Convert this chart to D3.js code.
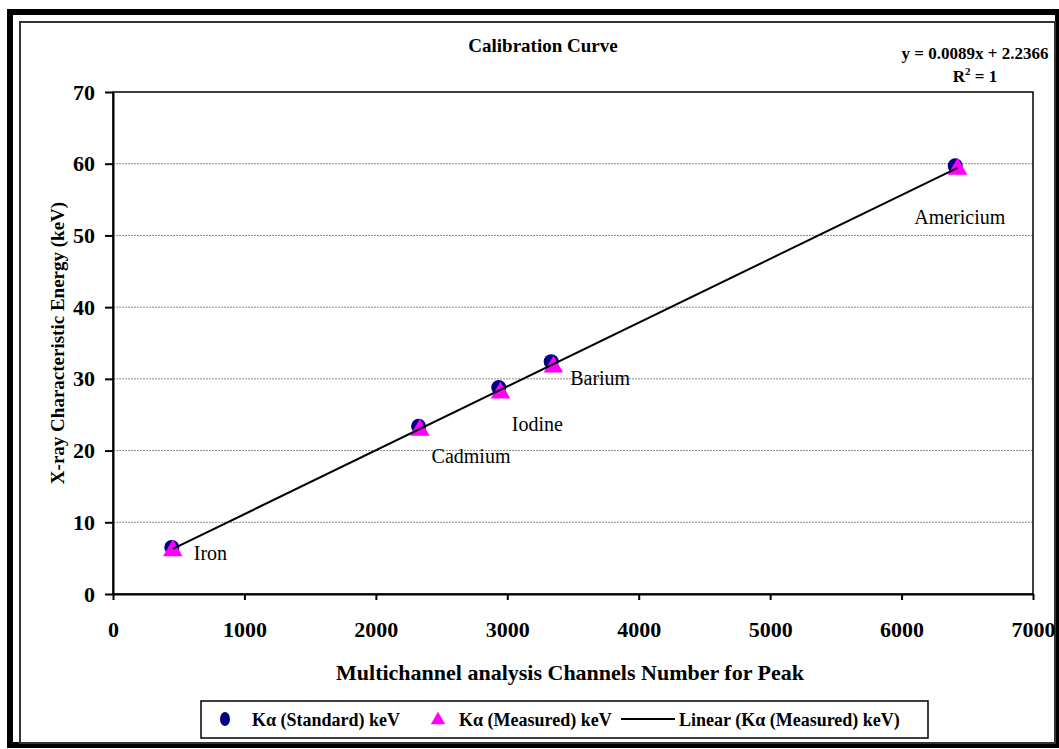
<!DOCTYPE html>
<html>
<head>
<meta charset="utf-8">
<script src="https://cdn.jsdelivr.net/npm/d3@7"></script>
<style>
  body { margin: 0; background: #fff; }
  svg { display: block; font-family: "Liberation Serif", "Times New Roman", serif; }
  .axis text { font-size: 22px; font-weight: bold; fill: #000; font-family: "Liberation Serif", "Times New Roman", serif; }
  .axis path, .axis line { stroke: #000; stroke-width: 2; }
</style>
</head>
<body>
<div id="chart"></div>
<script>
// element names + channel positions
var elements = ['Iron', 'Cadmium', 'Iodine', 'Barium', 'Americium'];
var stdChannels = [447, 2325, 2935, 3334, 6408];
var stdEnergy = [6.5, 23.4, 28.8, 32.4, 59.7];
var measChannels = [455, 2335, 2948, 3351, 6426];
var measEnergy = [6.2, 23.0, 28.2, 31.8, 59.4];

// trendline printed on the chart
var fitSlope = 0.0089;
var fitIntercept = 2.2366;

var xTicks = [0, 1000, 2000, 3000, 4000, 5000, 6000, 7000];
var yTicks = [0, 10, 20, 30, 40, 50, 60, 70];
var gridValues = [10, 20, 30, 40, 50, 60];

// where each data label sits relative to its point (px)
var labelOffsets = [[22, 13], [13, 37], [13, 44], [19, 23], [-41, 58]];

var W = 1059, H = 749;
var plot = { left: 113, right: 1033, top: 92, bottom: 594 };

var svg = d3.select('#chart').append('svg')
    .attr('width', W)
    .attr('height', H);

svg.append('rect').attr('width', W).attr('height', H).attr('fill', '#fff');

// frames
svg.append('rect')
    .attr('x', 10).attr('y', 12)
    .attr('width', 1048).attr('height', 733)
    .attr('fill', 'none').attr('stroke', '#000').attr('stroke-width', 6);
svg.append('rect')
    .attr('x', 20).attr('y', 22)
    .attr('width', 1035).attr('height', 721)
    .attr('fill', 'none').attr('stroke', '#333').attr('stroke-width', 2);

var x = d3.scaleLinear().domain([0, 7000]).range([plot.left, plot.right]);
var y = d3.scaleLinear().domain([0, 70]).range([plot.bottom, plot.top]);

// gridlines
svg.append('g').selectAll('line')
    .data(gridValues)
  .enter().append('line')
    .attr('x1', plot.left).attr('x2', plot.right)
    .attr('y1', function(d) { return y(d); })
    .attr('y2', function(d) { return y(d); })
    .attr('stroke', '#8a8a8a')
    .attr('stroke-width', 1)
    .attr('stroke-dasharray', '2,1');

// plot border (top / right)
svg.append('rect')
    .attr('x', plot.left).attr('y', plot.top)
    .attr('width', plot.right - plot.left).attr('height', plot.bottom - plot.top)
    .attr('fill', 'none').attr('stroke', '#000').attr('stroke-width', 1.5);

svg.append('g')
    .attr('class', 'axis')
    .attr('transform', 'translate(0,' + plot.bottom + ')')
    .call(d3.axisBottom(x).tickValues(xTicks).tickSize(6).tickSizeOuter(0).tickPadding(21).tickFormat(d3.format('d')))
    .attr('font-family', null).attr('font-size', null);

svg.append('g')
    .attr('class', 'axis')
    .attr('transform', 'translate(' + plot.left + ',0)')
    .call(d3.axisLeft(y).tickValues(yTicks).tickSize(8).tickSizeOuter(0).tickPadding(10).tickFormat(d3.format('d')))
    .attr('font-family', null).attr('font-size', null);

// markers
var stdPoints = elements.map(function(name, i) { return { name: name, x: stdChannels[i], y: stdEnergy[i], off: labelOffsets[i] }; });
var measPoints = elements.map(function(name, i) { return { name: name, x: measChannels[i], y: measEnergy[i] }; });

svg.append('g').selectAll('ellipse')
    .data(stdPoints)
  .enter().append('ellipse')
    .attr('cx', function(d) { return x(d.x); })
    .attr('cy', function(d) { return y(d.y); })
    .attr('rx', 7.5).attr('ry', 7.5)
    .attr('fill', '#000080');

var tri = d3.symbol().type(d3.symbolTriangle).size(165);
svg.append('g').selectAll('path')
    .data(measPoints)
  .enter().append('path')
    .attr('d', tri)
    .attr('transform', function(d) { return 'translate(' + x(d.x) + ',' + (y(d.y) + 1) + ')'; })
    .attr('fill', '#ff00ff');

// linear trendline over the measured range
var xr = d3.extent(measChannels);
svg.append('line')
    .attr('x1', x(xr[0])).attr('y1', y(fitSlope * xr[0] + fitIntercept))
    .attr('x2', x(xr[1])).attr('y2', y(fitSlope * xr[1] + fitIntercept))
    .attr('stroke', '#000').attr('stroke-width', 2);

// data labels
svg.append('g').selectAll('text')
    .data(stdPoints)
  .enter().append('text')
    .attr('x', function(d) { return x(d.x) + d.off[0]; })
    .attr('y', function(d) { return y(d.y) + d.off[1]; })
    .attr('font-size', 20)
    .text(function(d) { return d.name; });

// titles
svg.append('text')
    .attr('x', 543).attr('y', 52)
    .attr('text-anchor', 'middle')
    .attr('font-size', 19).attr('font-weight', 'bold')
    .text('Calibration Curve');

var eq = svg.append('text')
    .attr('text-anchor', 'middle')
    .attr('font-size', 17).attr('font-weight', 'bold');
eq.append('tspan').attr('x', 975).attr('y', 59)
    .text('y = ' + fitSlope + 'x + ' + fitIntercept);
var r2 = eq.append('tspan').attr('x', 975).attr('y', 82).text('R');
r2.append('tspan').attr('font-size', 11).attr('dy', -7).text('2');
eq.append('tspan').attr('dy', 7).text(' = 1');

svg.append('text')
    .attr('x', (plot.left + plot.right) / 2 - 3).attr('y', 680)
    .attr('text-anchor', 'middle')
    .attr('font-size', 22).attr('font-weight', 'bold')
    .text('Multichannel analysis Channels Number for Peak');

svg.append('text')
    .attr('transform', 'translate(64,' + (plot.top + plot.bottom) / 2 + ') rotate(-90)')
    .attr('text-anchor', 'middle')
    .attr('font-size', 19).attr('font-weight', 'bold')
    .text('X-ray Characteristic Energy (keV)');

// legend
var legend = svg.append('g');
legend.append('rect')
    .attr('x', 201).attr('y', 701)
    .attr('width', 727).attr('height', 37)
    .attr('fill', '#fff').attr('stroke', '#000').attr('stroke-width', 1.5);

legend.append('ellipse')
    .attr('cx', 225).attr('cy', 719)
    .attr('rx', 5).attr('ry', 7)
    .attr('fill', '#000080');
legend.append('path')
    .attr('d', d3.symbol().type(d3.symbolTriangle).size(90))
    .attr('transform', 'translate(438,720)')
    .attr('fill', '#ff00ff');
legend.append('line')
    .attr('x1', 621).attr('x2', 675)
    .attr('y1', 719).attr('y2', 719)
    .attr('stroke', '#000').attr('stroke-width', 2);

var legendText = [
  { x: 252, t: 'K\u03b1 (Standard) keV' },
  { x: 459, t: 'K\u03b1 (Measured) keV' },
  { x: 679, t: 'Linear (K\u03b1 (Measured) keV)' }
];
legend.selectAll('text.lg')
    .data(legendText)
  .enter().append('text')
    .attr('class', 'lg')
    .attr('x', function(d) { return d.x; })
    .attr('y', 726)
    .attr('font-size', 18).attr('font-weight', 'bold')
    .text(function(d) { return d.t; });
</script>
</body>
</html>
